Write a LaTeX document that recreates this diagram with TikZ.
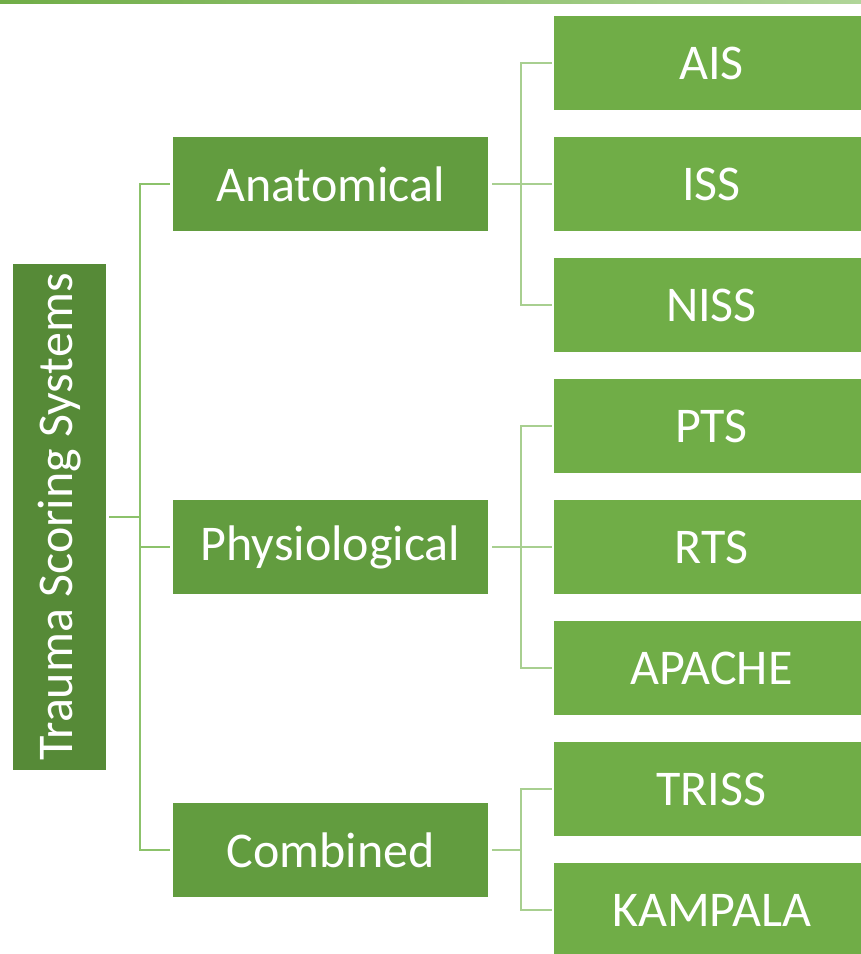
\documentclass[tikz,border=0pt]{standalone}
\usepackage{fontspec}
\setmainfont{Carlito}
\definecolor{rootg}{HTML}{568A37}
\definecolor{lvlone}{HTML}{629C3F}
\definecolor{lvltwo}{HTML}{70AD47}
\definecolor{conone}{HTML}{8CC26B}
\definecolor{contwo}{HTML}{A8CF90}
\definecolor{barL}{HTML}{70AD47}
\definecolor{barR}{HTML}{B0D599}
\begin{document}
\begin{tikzpicture}[x=1pt,y=-1pt,
  box/.style={inner sep=0pt,text=white,font=\fontsize{50}{56}\selectfont},
  rootbox/.style={box,fill=rootg,minimum width=506pt,minimum height=93pt,rotate=90},
  onebox/.style={box,fill=lvlone,minimum width=315pt,minimum height=94pt},
  twobox/.style={box,fill=lvltwo,minimum width=315pt,minimum height=94pt},
  cone/.style={draw=conone,line width=2.5pt},
  ctwo/.style={draw=contwo,line width=2.5pt,shorten <=4pt,shorten >=2pt}]
\clip (0,0) rectangle (861,954);
\fill[white] (0,0) rectangle (861,954);
\shade[left color=barL,right color=barR] (0,0) rectangle (861,3);
\node[rootbox] (root) at (59.5,517) {Trauma Scoring Systems};
\node[onebox] (ana) at (330.5,184) {Anatomical};
\node[onebox] (phy) at (330.5,547) {Physiological};
\node[onebox] (com) at (330.5,850) {Combined};
\node[twobox] (ais) at (711.5,63) {AIS};
\node[twobox] (iss) at (711.5,184) {ISS};
\node[twobox] (niss) at (711.5,305) {NISS};
\node[twobox] (pts) at (711.5,426) {PTS};
\node[twobox] (rts) at (711.5,547) {RTS};
\node[twobox] (apa) at (711.5,668) {APACHE};
\node[twobox] (tri) at (711.5,789) {TRISS};
\node[twobox] (kam) at (711.5,910) {KAMPALA};
\foreach \t in {ana,phy,com}
  \draw[cone,shorten <=3pt,shorten >=3pt] (root.south) -- ++(34,0) |- (\t.west);
\foreach \t in {ais,iss,niss}
  \draw[ctwo] (ana.east) -- ++(33,0) |- (\t.west);
\foreach \t in {pts,rts,apa}
  \draw[ctwo] (phy.east) -- ++(33,0) |- (\t.west);
\foreach \t in {tri,kam}
  \draw[ctwo] (com.east) -- ++(33,0) |- (\t.west);
\end{tikzpicture}
\end{document}
